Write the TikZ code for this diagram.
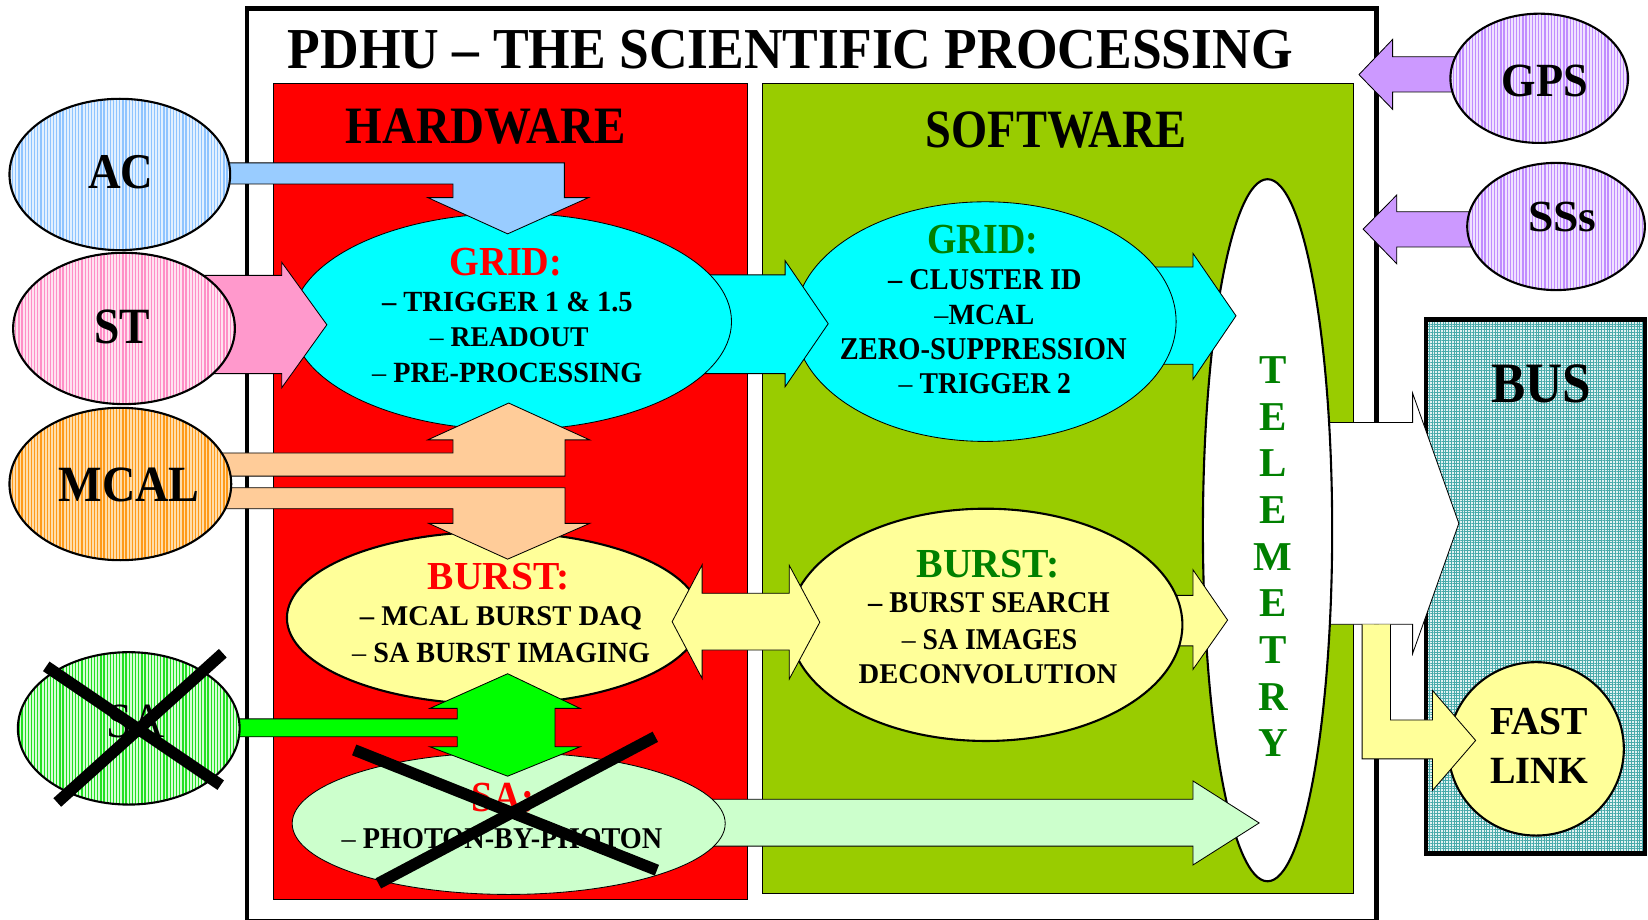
\documentclass[tikz,border=0pt]{standalone}
\usepackage{fontspec}
\setmainfont{Liberation Serif}
\usetikzlibrary{shapes.geometric,patterns.meta}

\definecolor{hwred}{HTML}{FF0000}
\definecolor{swgreen}{HTML}{99CC00}
\definecolor{cyanf}{HTML}{00FFFF}
\definecolor{paley}{HTML}{FFFF99}
\definecolor{paleg}{HTML}{CCFFCC}
\definecolor{brightg}{HTML}{00FF00}
\definecolor{peach}{HTML}{FFCC99}
\definecolor{pinkf}{HTML}{FF99CC}
\definecolor{bluef}{HTML}{99CCFF}
\definecolor{lavf}{HTML}{CC99FF}
\definecolor{dkgreen}{HTML}{008000}
\definecolor{acL}{HTML}{E2F0FF}
\definecolor{acD}{HTML}{8EC4FF}
\definecolor{stL}{HTML}{FFE2F0}
\definecolor{stD}{HTML}{FF8EC6}
\definecolor{mcL}{HTML}{FFDDAA}
\definecolor{mcD}{HTML}{FF9A1A}
\definecolor{saL}{HTML}{D6FFD6}
\definecolor{saD}{HTML}{22E022}
\definecolor{gpL}{HTML}{F0E2FF}
\definecolor{gpD}{HTML}{C08CFF}
\definecolor{busL}{HTML}{E2F2F2}
\definecolor{busD}{HTML}{48AAAA}

% one line of text stretched to a given width and cap height (in pt)
\newcommand\fl[3]{\resizebox{#1pt}{#2pt}{#3}}
% light dash used in front of some list items
\newcommand\thd{\textmd{–}}

\begin{document}
\begin{tikzpicture}[x=1pt,y=-1pt,font=\bfseries,
  blk/.style={draw=black,line width=0.8pt,line join=miter},
  oval/.style={ellipse,inner sep=0pt,outer sep=0pt,draw=black,line width=2pt},
  ovalthin/.style={ellipse,inner sep=0pt,outer sep=0pt,draw=black,line width=0.8pt},
  lbl/.style={anchor=base,inner sep=0pt,outer sep=0pt},
  stripes/.style 2 args={preaction={fill=#1},
    pattern={Lines[angle=90,distance=3pt,line width=1.2pt]},pattern color=#2},
  cross/.style={draw=black,line width=11pt},
  telel/.style={anchor=base,inner sep=0pt,text=dkgreen,
    font=\bfseries\fontsize{39}{39}\selectfont},
]
\useasboundingbox (0,0) rectangle (1568,875);

% frame of the processing unit
\draw[line width=4.5pt,fill=white] (235,8) rectangle (1310,877);
\draw[fill=hwred,line width=0.8pt] (260,79) rectangle (711,856);
\draw[fill=swgreen,line width=0.8pt] (725.5,79) rectangle (1288,850);

% spacecraft bus with the fast link
\draw[line width=4pt,preaction={fill=busL},
  pattern={Hatch[distance=2.6pt,line width=0.45pt]},pattern color=busD]
  (1357,304) rectangle (1565,812);
\node[oval,fill=paley,minimum width=167pt,minimum height=165pt] (fast) at (1461.5,712.5) {};

% telemetry output to the bus
\filldraw[blk,fill=white] (1230,402) -- (1344,402) -- (1344,374) -- (1388,498)
  -- (1344,622) -- (1344,594) -- (1230,594) -- cycle;
\fill[paley] (1296,594) -- (1323,594) -- (1323,685) -- (1363,685) -- (1363,657)
  -- (1404,704.5) -- (1363,752) -- (1363,722) -- (1296,722) -- cycle;
\draw[blk] (1296,594) -- (1296,722) -- (1363,722) -- (1363,752) -- (1404,704.5)
  -- (1363,657) -- (1363,685) -- (1323,685) -- (1323,594);

% GPS and sun sensors
\filldraw[blk,fill=lavf] (1420,54) -- (1325,54) -- (1325,37.5) -- (1293,71)
  -- (1325,104) -- (1325,87.5) -- (1420,87.5) -- cycle;
\filldraw[blk,fill=lavf] (1430,201.5) -- (1329,201.5) -- (1329,185.5) -- (1297,218)
  -- (1329,251) -- (1329,235) -- (1430,235) -- cycle;
\node[oval,stripes={gpL}{gpD},minimum width=169pt,minimum height=123pt] (gps) at (1464.5,74.5) {};
\node[oval,stripes={gpL}{gpD},minimum width=169pt,minimum height=121pt] (sss) at (1480.5,215.5) {};

% telemetry collector
\node[oval,fill=white,minimum width=123pt,minimum height=668pt] (tele) at (1206,504.5) {};

% software outputs into telemetry
\filldraw[blk,fill=cyanf] (1050,254) -- (1135,254) -- (1135,241) -- (1176,300.5)
  -- (1135,361) -- (1135,346.5) -- (1050,346.5) -- cycle;
\filldraw[blk,fill=paley] (1080,566.5) -- (1135,566.5) -- (1135,542) -- (1168,590)
  -- (1135,637) -- (1135,614.5) -- (1080,614.5) -- cycle;
\filldraw[blk,fill=paleg] (600,760.5) -- (1135,760.5) -- (1135,743) -- (1198,783)
  -- (1135,823) -- (1135,805) -- (600,805) -- cycle;

% software processing blocks
\node[ovalthin,fill=cyanf,minimum width=363pt,minimum height=228pt] (swgrid) at (937.5,306) {};
\node[oval,fill=paley,minimum width=374pt,minimum height=221pt] (swburst) at (938,594.5) {};
\node[ovalthin,fill=paleg,minimum width=412pt,minimum height=135pt] (hwsa) at (484,783.5) {};

% hardware grid to software grid
\filldraw[blk,fill=cyanf] (650,261.5) -- (747,261.5) -- (747,248) -- (788,308)
  -- (747,368) -- (747,355.5) -- (650,355.5) -- cycle;

% hardware processing blocks
\node[ovalthin,fill=cyanf,minimum width=418pt,minimum height=206pt] (hwgrid) at (487,306) {};
\node[oval,fill=paley,minimum width=394pt,minimum height=164pt] (hwburst) at (470,588) {};

% burst exchange between hardware and software
\filldraw[blk,fill=paley] (639.5,591.5) -- (668,537.5) -- (668,564.5) -- (751,564.5)
  -- (751,538) -- (780,592) -- (751,646) -- (751,618.5) -- (668,618.5)
  -- (668,645.5) -- cycle;

% detector inputs
\filldraw[blk,fill=bluef] (190,155) -- (537,155) -- (537,188) -- (560,188) -- (483,222.5)
  -- (407,188) -- (431,188) -- (431,175) -- (190,175) -- cycle;
\filldraw[blk,fill=pinkf] (170,262) -- (268,262) -- (268,249.5) -- (311,309)
  -- (268,369) -- (268,355.5) -- (170,355.5) -- cycle;
\filldraw[blk,fill=peach] (190,431) -- (431,431) -- (431,418.5) -- (407,418.5)
  -- (484,383.5) -- (561,418.5) -- (537.5,418.5) -- (537.5,453) -- (190,453) -- cycle;
\filldraw[blk,fill=peach] (190,464) -- (537.5,464) -- (537.5,498) -- (561,498)
  -- (483,532) -- (408,498) -- (431,498) -- (431,484) -- (190,484) -- cycle;
\filldraw[blk,fill=brightg] (200,684) -- (435,684) -- (435,674) -- (409,674) -- (483,641)
  -- (552,674) -- (528,674) -- (528,710.5) -- (552,710.5) -- (483,738.5) -- (409,710.5)
  -- (435,710.5) -- (435,701) -- (200,701) -- cycle;

\node[oval,stripes={acL}{acD},minimum width=210pt,minimum height=144pt] (ac) at (114,166) {};
\node[oval,stripes={stL}{stD},minimum width=211pt,minimum height=144pt] (st) at (118,312.5) {};
\node[oval,stripes={mcL}{mcD},minimum width=211pt,minimum height=145pt] (mcal) at (114.5,460.5) {};
\node[oval,stripes={saL}{saD},minimum width=211pt,minimum height=145pt] (sa) at (122.5,693) {};

% headings
\node[lbl] (title) at (752,65) {\fl{956}{36.5}{PDHU – THE SCIENTIFIC PROCESSING}};
\node[lbl] (hwtitle) at (462,137) {\fl{266}{33}{HARDWARE}};
\node[lbl] (swtitle) at (1005,140) {\fl{248}{34}{SOFTWARE}};

% outer labels
\node[lbl] (gpsT) at (1470,92) {\fl{82}{30}{GPS}};
\node[lbl] (sssT) at (1486.5,220) {\fl{65}{28}{SSs}};
\node[lbl] (acT) at (115,179) {\fl{62}{31.5}{AC}};
\node[lbl] (stT) at (116.5,327) {\fl{53}{32}{ST}};
\node[lbl] (mcalT) at (123,477) {\fl{134}{32}{MCAL}};
\node[lbl,font=\mdseries] (saT) at (129,702) {\fl{56}{31}{SA}};
\node[lbl] (busT) at (1466.5,383) {\fl{95}{36}{BUS}};
\node[lbl] (fastT) at (1464.5,699) {\fl{93.5}{25}{FAST}};
\node[lbl] (linkT) at (1464.5,745) {\fl{93}{24}{LINK}};

% hardware grid text
\node[lbl,text=red] (hg1) at (481.5,262) {\fl{107}{26}{GRID:}};
\node[lbl] (hg2) at (482.75,296) {\fl{238.5}{18.5}{– TRIGGER 1 \& 1.5}};
\node[lbl] (hg3) at (484.5,330) {\fl{151}{18}{\thd\ READOUT}};
\node[lbl] (hg4) at (482.5,363.5) {\fl{257}{18.5}{\thd\ PRE-PROCESSING}};

% software grid text
\node[lbl,text=dkgreen] (sg1) at (935,241) {\fl{106}{27}{GRID:}};
\node[lbl] (sg2) at (937,275) {\fl{184}{19}{– CLUSTER ID}};
\node[lbl] (sg3) at (936.5,309) {\fl{95}{18.5}{\thd MCAL}};
\node[lbl] (sg4) at (935.5,342) {\fl{273}{20}{ZERO-SUPPRESSION}};
\node[lbl] (sg5) at (937,374) {\fl{164}{19}{\thd\ TRIGGER 2}};

% hardware burst text
\node[lbl,text=red] (hb1) at (474.5,561) {\fl{135}{25}{BURST:}};
\node[lbl] (hb2) at (476.75,595) {\fl{268.5}{18}{– MCAL BURST DAQ}};
\node[lbl] (hb3) at (476.75,630.5) {\fl{283.5}{18.5}{\thd\ SA BURST IMAGING}};

% software burst text
\node[lbl,text=dkgreen] (sb1) at (940,549) {\fl{136}{26}{BURST:}};
\node[lbl] (sb2) at (941,583) {\fl{230}{19}{– BURST SEARCH}};
\node[lbl] (sb3) at (941.5,618) {\fl{167}{19}{\thd\ SA IMAGES}};
\node[lbl] (sb4) at (940,650) {\fl{246}{18}{DECONVOLUTION}};

% hardware photon-by-photon text
\node[lbl,text=red] (hs1) at (478.5,772) {\fl{59}{27}{SA:}};
\node[lbl] (hs2) at (477.5,807) {\fl{305}{19}{\thd\ PHOTON-BY-PHOTON}};

% telemetry lettering
\foreach \l [count=\i from 0] in {T,E,L,E,M,E,T,R,Y}
  \node[telel] (tl\i) at (1211,{365+44.4*\i}) {\l};

% removed paths
\draw[cross] (44,634) -- (210,747);
\draw[cross] (212,621.5) -- (54.5,763.5);
\draw[cross] (337,713.5) -- (625,828);
\draw[cross] (623.5,701) -- (360,840.5);
\end{tikzpicture}
\end{document}
